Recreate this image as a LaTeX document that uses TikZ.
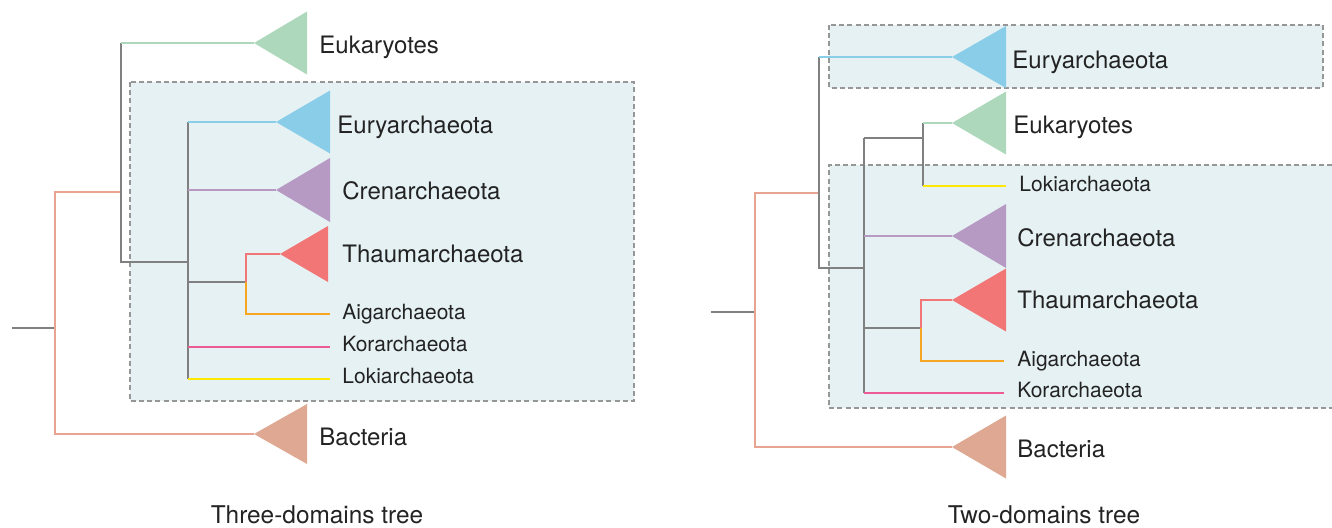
\documentclass[tikz,border=0pt]{standalone}
\usepackage{fontspec}
\setmainfont{TeX Gyre Heros}

\definecolor{branchgray}{RGB}{128,128,128}
\definecolor{salmonline}{RGB}{232,164,144}
\definecolor{bacfill}{RGB}{222,168,147}
\definecolor{eukfill}{RGB}{174,216,188}
\definecolor{euryfill}{RGB}{137,205,232}
\definecolor{crenfill}{RGB}{183,154,196}
\definecolor{thaumfill}{RGB}{243,118,118}
\definecolor{aigline}{RGB}{246,166,35}
\definecolor{korline}{RGB}{238,90,150}
\definecolor{lokiline}{RGB}{255,232,0}
\definecolor{boxfill}{RGB}{229,241,243}
\definecolor{boxdash}{RGB}{150,150,150}
\definecolor{labeltext}{RGB}{35,35,35}

\begin{document}
\begin{tikzpicture}[x=0.5pt, y=-0.5pt, line cap=butt, line join=miter]

% --- Global TikZ Styles ---
\tikzset{
    branch/.style={
        draw=branchgray,
        line width=0.85pt
    },
    bacbranch/.style={branch, draw=salmonline},
    eukbranch/.style={branch, draw=eukfill},
    eurybranch/.style={branch, draw=euryfill},
    crenbranch/.style={branch, draw=crenfill},
    thaumbranch/.style={branch, draw=thaumfill},
    aigbranch/.style={branch, draw=aigline},
    korbranch/.style={branch, draw=korline},
    lokibranch/.style={branch, draw=lokiline},
    archbox/.style={
        fill=boxfill
    },
    archboxline/.style={
        draw=boxdash,
        line width=0.6pt,
        dash pattern=on 2.5pt off 1.6pt
    },
    biglabel/.style={
        anchor=base west,
        inner sep=0pt,
        text=labeltext,
        font=\fontsize{12}{14}\selectfont
    },
    smalllabel/.style={
        biglabel,
        font=\fontsize{10.5}{12}\selectfont
    },
    caption/.style={
        anchor=base,
        inner sep=0pt,
        text=labeltext,
        font=\fontsize{12.2}{14}\selectfont
    }
}

\useasboundingbox (0,0) rectangle (1332,527);

% =========================================================================
% --- Three-domains tree ---
% =========================================================================

% --- Archaea box ---
\fill[archbox] (130,82) rectangle (634,401);
\draw[archboxline] (130,82) rectangle (634,401);

% --- Vertakkingspunten ---
\coordinate (Lstub) at (12,328);
\coordinate (Lroot) at (55,328);
\coordinate (Lupper) at (121,192);
\coordinate (Leuk) at (254,43);
\coordinate (Lbac) at (254,434);
\coordinate (Larch) at (188,262);
\coordinate (Leury) at (276,122);
\coordinate (Lcren) at (276,190);
\coordinate (Ltaig) at (246,282);
\coordinate (Lthaum) at (280,254);
\coordinate (Laig) at (330,314);
\coordinate (Lkor) at (330,347);
\coordinate (Lloki) at (330,379);

% --- Takken ---
\draw[branch] (Lstub) -- (Lroot);
\draw[bacbranch] (Lroot) |- (Lupper);
\draw[bacbranch] (Lroot) |- (Lbac);
\draw[branch] (Lupper |- Leuk) -- (Lupper |- Larch) -- (Larch);
\draw[eukbranch] (Lupper |- Leuk) -- (Leuk);
\draw[branch] (Larch |- Leury) -- (Larch |- Lloki);
\draw[eurybranch] (Larch |- Leury) -- (Leury);
\draw[crenbranch] (Larch |- Lcren) -- (Lcren);
\draw[branch] (Larch |- Ltaig) -- (Ltaig);
\draw[thaumbranch] (Ltaig) |- (Lthaum);
\draw[aigbranch] (Ltaig) |- (Laig);
\draw[korbranch] (Larch |- Lkor) -- (Lkor);
\draw[lokibranch] (Larch |- Lloki) -- (Lloki);

% --- Clades ---
\fill[eukfill] (Leuk) -- ++(53,-31.5) -- ++(0,63) -- cycle;
\fill[euryfill] (Leury) -- ++(54,-31.5) -- ++(0,63) -- cycle;
\fill[crenfill] (Lcren) -- ++(54,-32) -- ++(0,64) -- cycle;
\fill[thaumfill] (Lthaum) -- ++(48,-28) -- ++(0,56) -- cycle;
\fill[bacfill] (Lbac) -- ++(53,-30) -- ++(0,60) -- cycle;

% --- Labels ---
\node[biglabel] (Leuklabel) at (319,53) {Eukaryotes};
\node[biglabel] (Leurylabel) at (337,133) {Euryarchaeota};
\node[biglabel] (Lcrenlabel) at (342,199) {Crenarchaeota};
\node[biglabel] (Lthaumlabel) at (342,262) {Thaumarchaeota};
\node[smalllabel] (Laiglabel) at (342,319) {Aigarchaeota};
\node[smalllabel] (Lkorlabel) at (342,351) {Korarchaeota};
\node[smalllabel] (Llokilabel) at (342,383) {Lokiarchaeota};
\node[biglabel] (Lbaclabel) at (319,445) {Bacteria};
\node[caption] (Lcaption) at (317,523) {Three-domains tree};

% =========================================================================
% --- Two-domains tree ---
% =========================================================================

% --- Archaea boxes ---
\fill[archbox] (829,25) rectangle (1323,88);
\draw[archboxline] (829,25) rectangle (1323,88);
\fill[archbox] (829,165) rectangle (1332,408);
\draw[archboxline] (1332,165) -- (829,165) -- (829,408) -- (1332,408);

% --- Vertakkingspunten ---
\coordinate (Rstub) at (711,312);
\coordinate (Rroot) at (755,312);
\coordinate (Rupper) at (819,193);
\coordinate (Reury) at (952,57);
\coordinate (Rbac) at (952,447);
\coordinate (Rrest) at (864,268);
\coordinate (Reukloki) at (923,138);
\coordinate (Reuk) at (952,123);
\coordinate (Rloki) at (1006,186);
\coordinate (Rcren) at (952,236);
\coordinate (Rtaig) at (921,328);
\coordinate (Rthaum) at (952,300);
\coordinate (Raig) at (1004,361);
\coordinate (Rkor) at (1004,393);

% --- Takken ---
\draw[branch] (Rstub) -- (Rroot);
\draw[bacbranch] (Rroot) |- (Rupper);
\draw[bacbranch] (Rroot) |- (Rbac);
\draw[branch] (Rupper |- Reury) -- (Rupper |- Rrest) -- (Rrest);
\draw[eurybranch] (Rupper |- Reury) -- (Reury);
\draw[branch] (Rrest |- Reukloki) -- (Rrest |- Rkor);
\draw[branch] (Rrest |- Reukloki) -- (Reukloki);
\draw[branch] (Reukloki |- Reuk) -- (Reukloki |- Rloki);
\draw[eukbranch] (Reukloki |- Reuk) -- (Reuk);
\draw[lokibranch] (Reukloki |- Rloki) -- (Rloki);
\draw[crenbranch] (Rrest |- Rcren) -- (Rcren);
\draw[branch] (Rrest |- Rtaig) -- (Rtaig);
\draw[thaumbranch] (Rtaig) |- (Rthaum);
\draw[aigbranch] (Rtaig) |- (Raig);
\draw[korbranch] (Rrest |- Rkor) -- (Rkor);

% --- Clades ---
\fill[euryfill] (Reury) -- ++(54,-31) -- ++(0,62) -- cycle;
\fill[eukfill] (Reuk) -- ++(54,-31.5) -- ++(0,63) -- cycle;
\fill[crenfill] (Rcren) -- ++(54,-32) -- ++(0,64) -- cycle;
\fill[thaumfill] (Rthaum) -- ++(54,-31.5) -- ++(0,63) -- cycle;
\fill[bacfill] (Rbac) -- ++(54,-31.5) -- ++(0,63) -- cycle;

% --- Labels ---
\node[biglabel] (Reurylabel) at (1012,68) {Euryarchaeota};
\node[biglabel] (Reuklabel) at (1013,133) {Eukaryotes};
\node[smalllabel] (Rlokilabel) at (1019,191) {Lokiarchaeota};
\node[biglabel] (Rcrenlabel) at (1017,246) {Crenarchaeota};
\node[biglabel] (Rthaumlabel) at (1017,308) {Thaumarchaeota};
\node[smalllabel] (Raiglabel) at (1017,366) {Aigarchaeota};
\node[smalllabel] (Rkorlabel) at (1017,397) {Korarchaeota};
\node[biglabel] (Rbaclabel) at (1017,457) {Bacteria};
\node[caption] (Rcaption) at (1044,523) {Two-domains tree};

\end{tikzpicture}
\end{document}
